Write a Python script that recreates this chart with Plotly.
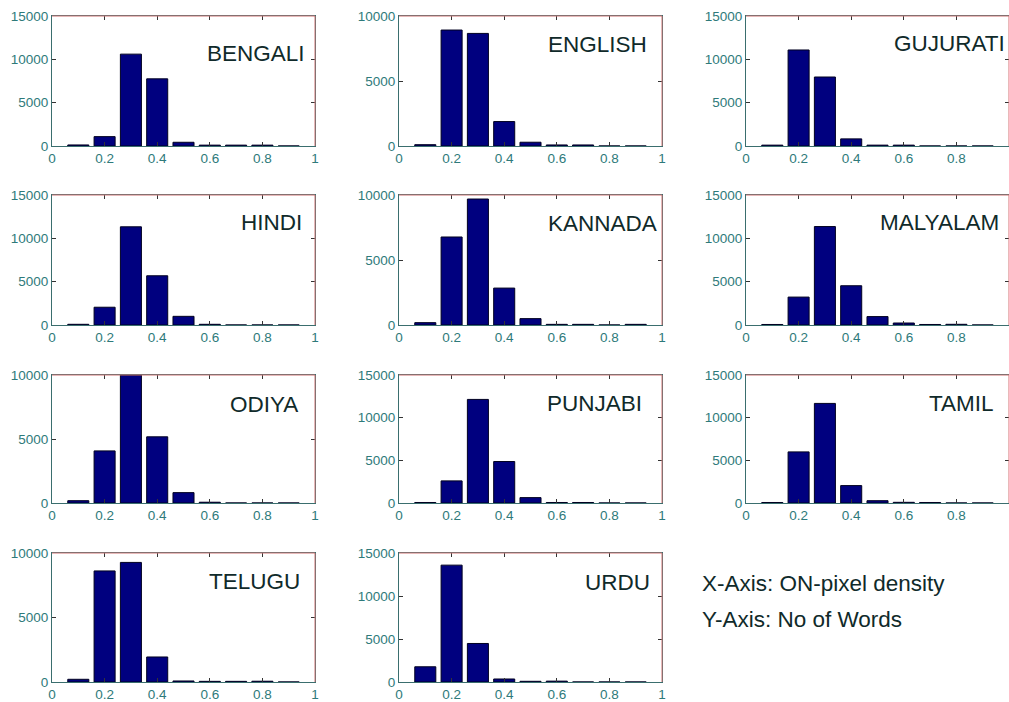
import plotly.graph_objects as go

# ---------------- data ----------------
bin_centers = [0.1, 0.2, 0.3, 0.4, 0.5, 0.6, 0.7, 0.8, 0.9]
languages = ["BENGALI", "ENGLISH", "GUJURATI", "HINDI", "KANNADA", "MALYALAM",
             "ODIYA", "PUNJABI", "TAMIL", "TELUGU", "URDU"]
bengali  = [120, 1080, 10600, 7750, 430, 100, 100, 100, 0]
english  = [100, 8920, 8660, 1880, 290, 80, 80, 0, 0]
gujurati = [100, 11080, 7960, 820, 100, 100, 0, 0, 0]
hindi    = [80, 2050, 11330, 5680, 1000, 80, 0, 0, 0]
kannada  = [180, 6770, 9690, 2840, 490, 50, 50, 0, 50]
malyalam = [60, 3220, 11360, 4530, 970, 230, 60, 80, 0]
odiya    = [180, 4070, 10000, 5170, 810, 60, 0, 0, 0]
punjabi  = [60, 2590, 12140, 4860, 630, 60, 60, 0, 0]
tamil    = [60, 5990, 11670, 2040, 270, 80, 60, 0, 0]
telugu   = [210, 8610, 9270, 1940, 80, 50, 50, 60, 0]
urdu     = [1770, 13590, 4480, 350, 80, 100, 0, 0, 0]
series = [bengali, english, gujurati, hindi, kannada, malyalam,
          odiya, punjabi, tamil, telugu, urdu]
y_max = [15000, 10000, 15000, 15000, 10000, 15000, 10000, 15000, 15000, 10000, 15000]
y_ticks_15k = [0, 5000, 10000, 15000]
y_ticks_10k = [0, 5000, 10000]
x_ticks = [0, 0.2, 0.4, 0.6, 0.8, 1]
x_tick_text = ["0", "0.2", "0.4", "0.6", "0.8", "1"]
# label placement (x start fraction of panel, y centre fraction)
label_x = [0.58, 0.56, 0.555, 0.71, 0.56, 0.50, 0.67, 0.555, 0.69, 0.59, 0.70]
label_y = [0.71, 0.78, 0.79, 0.79, 0.78, 0.79, 0.77, 0.78, 0.78, 0.78, 0.77]
note_lines = ["X-Axis: ON-pixel density", "Y-Axis: No of Words"]

# ---------------- layout geometry ----------------
W, H = 1009, 702
col_px = [(52, 315), (399, 662), (746, 1009)]
row_px = [(16, 146), (195, 325), (375, 503), (553, 682)]

TICK_COL = "#2e7a7a"
LEFT_COL = "#3a6e6e"
RIGHT_COL = "#d07272"
BAR_COL = "#00007f"
FONT = "Liberation Sans, Arial, sans-serif"

fig = go.Figure()
layout = dict(template="none", width=W, height=H, margin=dict(l=0, r=0, t=0, b=0, pad=0),
              paper_bgcolor="white", plot_bgcolor="white", showlegend=False,
              font=dict(family=FONT, size=13, color=TICK_COL),
              bargap=0.2)
shapes = []
annotations = []

for i, (name, vals) in enumerate(zip(languages, series)):
    r, c = divmod(i, 3)
    n = i + 1
    xa = "xaxis" if n == 1 else f"xaxis{n}"
    ya = "yaxis" if n == 1 else f"yaxis{n}"
    xr = "x" if n == 1 else f"x{n}"
    yr = "y" if n == 1 else f"y{n}"
    x0, x1 = col_px[c]
    y0, y1 = row_px[r]
    fig.add_trace(go.Bar(x=bin_centers, y=vals, width=0.08,
                         marker=dict(color=BAR_COL, line=dict(color="#000020", width=1)),
                         xaxis=xr, yaxis=yr, hoverinfo="x+y"))
    yt = y_ticks_15k if y_max[i] == 15000 else y_ticks_10k
    layout[xa] = dict(domain=[x0 / W, min(x1 / W, 1.0)], range=[0, 1], anchor=yr,
                      automargin=False, layer="above traces",
                      tickvals=x_ticks, ticktext=x_tick_text, ticks="inside",
                      ticklen=4, tickcolor="#333", showline=True, linecolor=LEFT_COL,
                      linewidth=1, mirror="ticks", showgrid=False, zeroline=False,
                      tickfont=dict(size=13.5, color=TICK_COL, family=FONT))
    layout[ya] = dict(domain=[1 - y1 / H, 1 - y0 / H], range=[0, y_max[i]], anchor=xr,
                      automargin=False, layer="above traces",
                      tickvals=yt, ticktext=[str(v) for v in yt], ticks="inside",
                      ticklen=4, tickcolor="#333", showline=True, linecolor=LEFT_COL,
                      linewidth=1, mirror="ticks", showgrid=False, zeroline=False,
                      tickfont=dict(size=13.5, color=TICK_COL, family=FONT))
    # reddish top / right frame edges
    shapes.append(dict(type="line", xref=f"{xr} domain", yref=f"{yr} domain",
                       x0=0, x1=1, y0=1, y1=1, line=dict(color=RIGHT_COL, width=1)))
    shapes.append(dict(type="line", xref=f"{xr} domain", yref=f"{yr} domain",
                       x0=1, x1=1, y0=0, y1=1, line=dict(color=RIGHT_COL, width=1)))
    annotations.append(dict(text=name, xref=f"{xr} domain", yref=f"{yr} domain",
                            x=label_x[i], y=label_y[i], xanchor="left", yanchor="middle",
                            showarrow=False,
                            font=dict(family=FONT, size=22.5, color="#102a2a")))

for k, line in enumerate(note_lines):
    annotations.append(dict(text=line, xref="paper", yref="paper",
                            x=700 / W, y=1 - (583 + 36 * k) / H,
                            xanchor="left", yanchor="middle", showarrow=False,
                            font=dict(family=FONT, size=22.5, color="#102a2a")))

layout["shapes"] = shapes
layout["annotations"] = annotations
fig.update_layout(**layout)
fig.write_html("out.html",
               config={"displayModeBar": False},
               post_script="document.body.style.margin='0';"
                           "document.body.style.overflow='hidden';")
